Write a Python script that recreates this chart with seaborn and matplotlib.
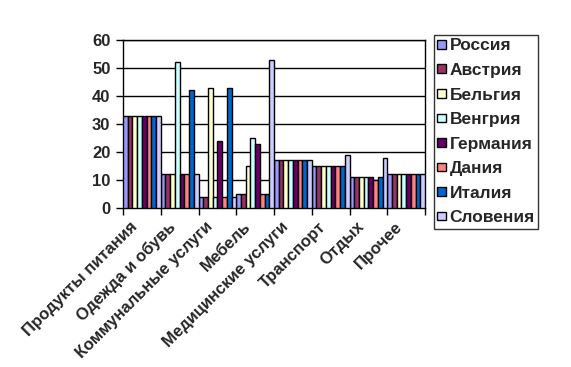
import matplotlib

matplotlib.use("Agg")
import matplotlib.pyplot as plt
import matplotlib.transforms as mtransforms
import pandas as pd
import seaborn as sns

CATEGORIES = [
    "Продукты питания", "Одежда и обувь", "Коммунальные услуги", "Мебель",
    "Медицинские услуги", "Транспорт", "Отдых", "Прочее",
]
COUNTRIES = ["Россия", "Австрия", "Бельгия", "Венгрия", "Германия", "Дания", "Италия", "Словения"]

# values per country, in category order
RUSSIA = [33, 12, 4, 5, 17, 15, 11, 12]
AUSTRIA = [33, 12, 4, 5, 17, 15, 11, 12]
BELGIUM = [33, 12, 43, 15, 17, 15, 11, 12]
HUNGARY = [33, 52, 4, 25, 17, 15, 11, 12]
GERMANY = [33, 12, 24, 23, 17, 15, 11, 12]
DENMARK = [33, 12, 4, 5, 17, 15, 10, 12]
ITALY = [33, 42, 43, 5, 17, 15, 11, 12]
SLOVENIA = [33, 12, 4, 53, 17, 19, 18, 12]

COLORS = ["#9999FF", "#993366", "#FFFFCC", "#CCFFFF", "#660066", "#FF8080", "#0066CC", "#CCCCFF"]

series = [RUSSIA, AUSTRIA, BELGIUM, HUNGARY, GERMANY, DENMARK, ITALY, SLOVENIA]
rows = []
for country, vals in zip(COUNTRIES, series):
    for cat, v in zip(CATEGORIES, vals):
        rows.append({"category": cat, "country": country, "value": v})
df = pd.DataFrame(rows)

sns.set_style("white")
plt.rcParams["font.family"] = ["Liberation Sans", "DejaVu Sans"]
plt.rcParams["font.weight"] = "bold"

fig = plt.figure(figsize=(5.71, 3.67), dpi=100)
ax = fig.add_axes([123 / 571, 1 - 208 / 367, 302 / 571, 168 / 367])

sns.barplot(data=df, x="category", y="value", hue="country", order=CATEGORIES,
            hue_order=COUNTRIES, palette=COLORS, width=1.0, gap=0,
            edgecolor="black", linewidth=1, saturation=1, ax=ax, zorder=3)

ax.set_ylim(0, 60)
ax.set_xlim(-0.5, len(CATEGORIES) - 0.5)
ax.set_yticks(range(0, 61, 10))
ax.yaxis.grid(True, color="black", linewidth=1, zorder=0)
ax.set_axisbelow(True)
for s in ax.spines.values():
    s.set_visible(True)
    s.set_color("black")
    s.set_linewidth(1)
ax.set_xlabel("")
ax.set_ylabel("")

ax.tick_params(axis="y", direction="out", length=5, width=1, color="black",
               left=True, labelsize=12, pad=4)
ax.set_xticks(range(len(CATEGORIES)))
ax.set_xticklabels(CATEGORIES, rotation=45, ha="right", rotation_mode="anchor",
                   fontsize=12, fontweight="bold")
ax.tick_params(axis="x", which="major", length=0, pad=8)
ax.set_xticks([i - 0.5 for i in range(len(CATEGORIES) + 1)], minor=True)
ax.tick_params(axis="x", which="minor", direction="out", length=5, width=1,
               color="black", bottom=True)
shift = mtransforms.ScaledTranslation(-0.12, 0, fig.dpi_scale_trans)
for lbl in ax.get_xticklabels():
    lbl.set_transform(lbl.get_transform() + shift)
for lbl in ax.get_yticklabels():
    lbl.set_fontweight("bold")

handles, labels = ax.get_legend_handles_labels()
ax.get_legend().remove()
leg = fig.legend(handles, labels, loc="upper left",
                 bbox_to_anchor=(434 / 571, 1 - 35 / 367), bbox_transform=fig.transFigure,
                 frameon=True, fancybox=False, edgecolor="black", fontsize=12.5,
                 handlelength=0.5, handleheight=0.4, handletextpad=0.2,
                 labelspacing=0.55, borderpad=0.2, borderaxespad=0)
leg.get_frame().set_linewidth(1)
for t in leg.get_texts():
    t.set_fontweight("bold")

fig.savefig("out.png", dpi=100)
